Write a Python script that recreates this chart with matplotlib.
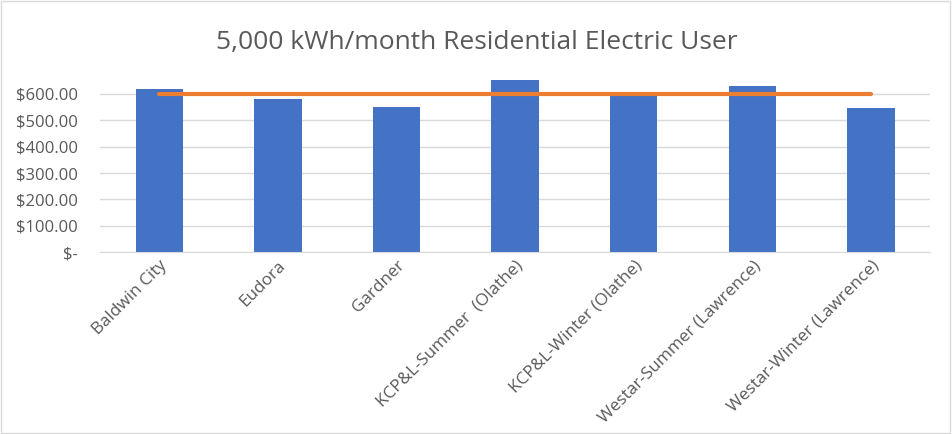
import matplotlib.pyplot as plt
import numpy as np

plt.rcParams['font.family'] = ['Open Sans', 'DejaVu Sans']

providers = ["Baldwin City", "Eudora", "Gardner", "KCP&L-Summer  (Olathe)",
             "KCP&L-Winter (Olathe)", "Westar-Summer (Lawrence)", "Westar-Winter (Lawrence)"]
bill = [618, 580, 551, 653, 592, 630, 546]
average = [600, 600, 600, 600, 600, 600, 600]
yticks = [0, 100, 200, 300, 400, 500, 600]
ylabels = ["$-", "$100.00", "$200.00", "$300.00", "$400.00", "$500.00", "$600.00"]

fig = plt.figure(figsize=(9.53, 4.34), dpi=100)
ax = fig.add_axes([0.105, 0.419, 0.871, 0.404])

x = np.arange(len(providers))
ax.bar(x, bill, width=0.4, color='#4472C4', zorder=2)
ax.plot(x, average, color='#ED7D31', linewidth=3, solid_capstyle='round', zorder=3)

ax.set_xlim(-0.5, len(providers) - 0.5)
ax.set_ylim(0, 665)
ax.set_yticks(yticks)
ax.set_yticklabels(ylabels)
ax.set_xticks(x)
ax.set_xticklabels(providers, rotation=45, ha='right', rotation_mode='anchor')
ax.tick_params(axis='both', length=0, labelcolor='#595959')
ax.tick_params(axis='x', pad=4, labelsize=12.3)
ax.tick_params(axis='y', pad=16, labelsize=12)
for lbl in ax.get_yticklabels():
    lbl.set_horizontalalignment('right')

ax.grid(axis='y', color='#d9d9d9', linewidth=1, zorder=0)
for s in ['top', 'right', 'left']:
    ax.spines[s].set_visible(False)
ax.spines['bottom'].set_color('#d9d9d9')

fig.text(0.5, 0.903, "5,000 kWh/month Residential Electric User", ha='center',
         va='center', fontsize=19, color='#595959')

border = plt.Rectangle((0.001, 0.002), 0.996, 0.996, transform=fig.transFigure,
                       fill=False, edgecolor='#d9d9d9', linewidth=1)
fig.patches.append(border)

fig.savefig('out.png', dpi=100)
